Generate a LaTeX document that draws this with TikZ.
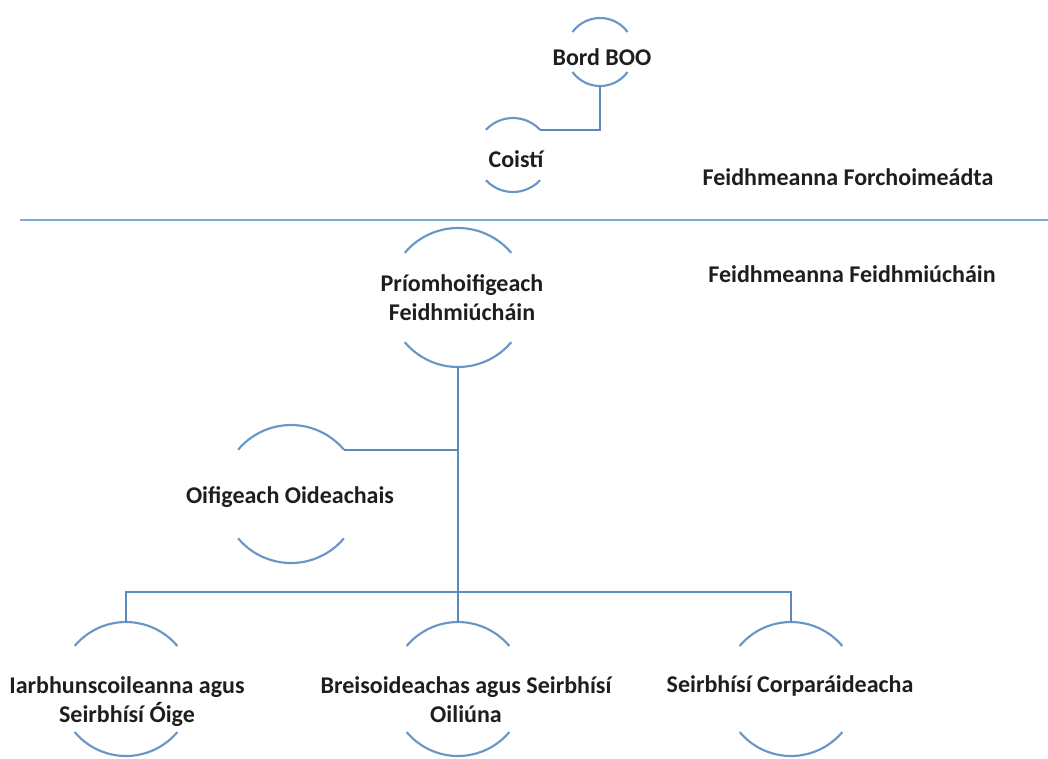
\documentclass[tikz,border=0pt]{standalone}
\usepackage{fontspec}
\setmainfont{Carlito}
\definecolor{arcblue}{RGB}{104,150,198}
\definecolor{connblue}{RGB}{92,138,188}
\definecolor{sepblue}{RGB}{122,170,222}
\definecolor{txt}{RGB}{30,30,30}
\newcommand\ringarcs[3]{%
  \pgfmathtruncatemacro\aL{180-#3}%
  \pgfmathtruncatemacro\aR{#3}%
  \pgfmathtruncatemacro\bL{180+#3}%
  \pgfmathtruncatemacro\bR{360-#3}%
  \draw[arcline] (#1.\aL) arc[start angle=\aL, end angle=\aR, radius=#2];
  \draw[arcline] (#1.\bL) arc[start angle=\bL, end angle=\bR, radius=#2];
}
\begin{document}
\begin{tikzpicture}[x=0.75pt,y=0.75pt,
  arcline/.style={draw=arcblue, line width=1.6pt},
  conn/.style={draw=connblue, line width=1.6pt},
  sepline/.style={draw=sepblue, line width=1.5pt},
  ring/.style={circle, minimum size=#1*1.5pt, inner sep=0pt, outer sep=0pt, draw=none},
  lbl/.style={font=\fontsize{18}{21.75}\selectfont\bfseries, text=txt, align=center, inner sep=0pt, anchor=base}]
\useasboundingbox (0,0) rectangle (1048,-758);

% rings
\node[ring=34] (bord) at (600,-52) {};
\node[ring=37] (coisti) at (513,-155) {};
\node[ring=69.5] (prio) at (458,-297.5) {};
\node[ring=69] (oifig) at (291,-494) {};
\node[ring=67] (iar) at (126,-689) {};
\node[ring=67] (breis) at (458,-689) {};
\node[ring=67] (corp) at (791,-689) {};

\ringarcs{bord}{34}{36}
\ringarcs{coisti}{37}{43}
\ringarcs{prio}{69.5}{40}
\ringarcs{oifig}{69}{40}
\ringarcs{iar}{67}{40}
\ringarcs{breis}{67}{40}
\ringarcs{corp}{67}{40}

% labels
\node[lbl] (bordT) at (602,-65) {Bord BOO};
\node[lbl] (coistiT) at (516,-167) {Coistí};
\node[lbl] (prioT) at (462,-320) {Príomhoifigeach\\Feidhmiúcháin};
\node[lbl] (oifigT) at (290,-503) {Oifigeach Oideachais};
\node[lbl] (iarT) at (127,-722) {Iarbhunscoileanna agus\\Seirbhísí Óige};
\node[lbl] (breisT) at (466,-722) {Breisoideachas agus Seirbhísí\\Oiliúna};
\node[lbl] (corpT) at (790,-692) {Seirbhísí Corparáideacha};
\node[lbl] (forch) at (848,-185) {Feidhmeanna Forchoimeádta};
\node[lbl] (feidh) at (852,-282) {Feidhmeanna Feidhmiúcháin};

% separator
\coordinate (sepL) at (20,-220);
\coordinate (sepR) at (1048,-220);
\draw[sepline] (sepL) -- (sepR);

% connectors
\coordinate (bus) at (458,-592);
\draw[conn] (bord.south) |- (coisti.43);
\draw[conn] (prio.south) -- (bus);
\draw[conn] (oifig.40) -- (oifig.40 -| prio.south);
\draw[conn] (bus) -| (iar.north);
\draw[conn] (bus) -- (breis.north);
\draw[conn] (bus) -| (corp.north);
\end{tikzpicture}
\end{document}
